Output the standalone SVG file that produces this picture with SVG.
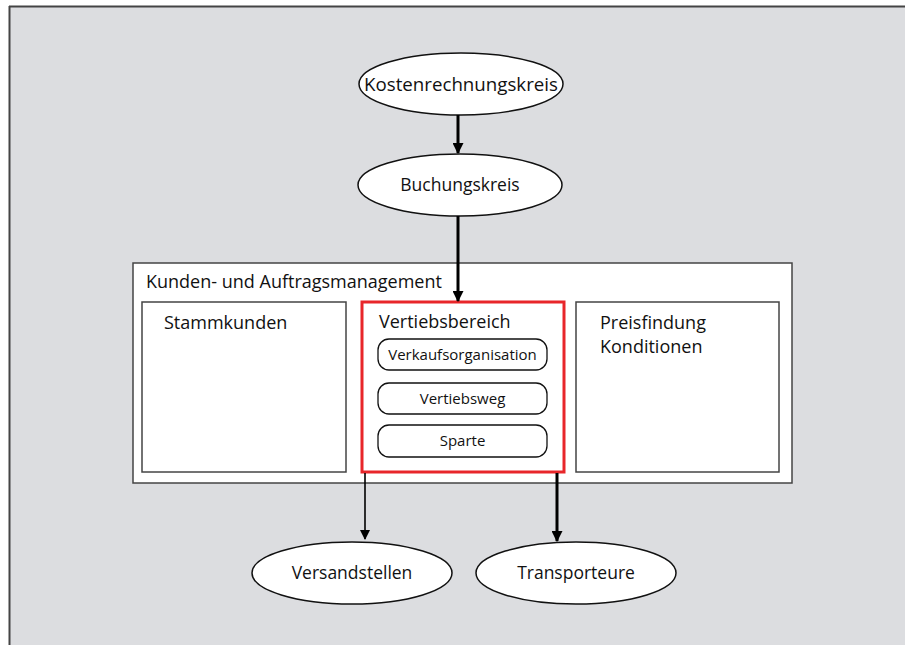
<svg xmlns="http://www.w3.org/2000/svg" width="905" height="645" viewBox="0 0 905 645">
<defs>
<style>
.t{font-family:"Open Sans","Noto Sans","DejaVu Sans",sans-serif;fill:#111}
.ell{fill:#fff;stroke:#111;stroke-width:1.5}
.box{fill:#fff;stroke:#444;stroke-width:1.5}
.rr{fill:#fff;stroke:#111;stroke-width:1.3}
.c{stroke:#000;fill:none}
</style>
<marker id="ah" viewBox="0 0 10 10" refX="9" refY="5" markerWidth="10" markerHeight="10" markerUnits="userSpaceOnUse" orient="auto">
<path d="M0,0 L10,5 L0,10 z" fill="#000"/>
</marker>
<marker id="ahb" viewBox="0 0 10 10" refX="9" refY="5" markerWidth="11" markerHeight="11" markerUnits="userSpaceOnUse" orient="auto">
<path d="M0,0 L10,5 L0,10 z" fill="#000"/>
</marker>
</defs>
<rect x="0" y="0" width="905" height="645" fill="#fff"/>
<rect x="10" y="7" width="895" height="638" fill="#dcdde0"/>
<line x1="9" y1="6.5" x2="905" y2="6.5" stroke="#444" stroke-width="2"/>
<line x1="9.5" y1="6" x2="9.5" y2="645" stroke="#444" stroke-width="2"/>

<g id="kundenmanagement">
<rect class="box" x="133" y="263" width="659" height="220"/>
<text class="t" x="146" y="288" font-size="18">Kunden- und Auftragsmanagement</text>
</g>
<g id="stammkunden">
<rect class="box" x="142" y="302" width="204" height="170"/>
<text class="t" x="164" y="329" font-size="18">Stammkunden</text>
</g>
<g id="preisfindung">
<rect class="box" x="576" y="302" width="203" height="170"/>
<text class="t" x="600" y="329" font-size="18">Preisfindung</text>
<text class="t" x="600" y="353" font-size="18">Konditionen</text>
</g>
<g id="vertiebsbereich">
<rect x="362" y="302" width="202" height="170" fill="#fff" stroke="#e8262a" stroke-width="3"/>
<text class="t" x="379" y="328" font-size="18">Vertiebsbereich</text>
</g>
<g id="verkaufsorganisation">
<rect class="rr" x="378" y="339" width="169" height="31" rx="11"/>
<text class="t" x="462.5" y="360" font-size="15" text-anchor="middle">Verkaufsorganisation</text>
</g>
<g id="vertiebsweg">
<rect class="rr" x="378" y="383" width="169" height="31" rx="11"/>
<text class="t" x="462.5" y="404" font-size="15" text-anchor="middle">Vertiebsweg</text>
</g>
<g id="sparte">
<rect class="rr" x="378" y="425" width="169" height="32" rx="11"/>
<text class="t" x="462.5" y="446" font-size="15" text-anchor="middle">Sparte</text>
</g>

<g id="kostenrechnungskreis">
<ellipse class="ell" cx="461" cy="84" rx="102" ry="31"/>
<text class="t" x="461" y="91" font-size="19" text-anchor="middle" textLength="194" lengthAdjust="spacingAndGlyphs">Kostenrechnungskreis</text>
</g>
<g id="buchungskreis">
<ellipse class="ell" cx="460" cy="185" rx="102" ry="31"/>
<text class="t" x="460" y="191" font-size="17.5" text-anchor="middle">Buchungskreis</text>
</g>
<g id="versandstellen">
<ellipse class="ell" cx="352" cy="573" rx="100" ry="31"/>
<text class="t" x="352" y="579" font-size="17.5" text-anchor="middle">Versandstellen</text>
</g>
<g id="transporteure">
<ellipse class="ell" cx="576" cy="573" rx="100" ry="31"/>
<text class="t" x="576" y="579" font-size="17.5" text-anchor="middle">Transporteure</text>
</g>

<g id="connectors">
<line class="c" x1="458" y1="115" x2="458" y2="153" stroke-width="3" marker-end="url(#ahb)"/>
<line class="c" x1="458" y1="216" x2="458" y2="301" stroke-width="3" marker-end="url(#ahb)"/>
<line class="c" x1="365" y1="473" x2="365" y2="539" stroke-width="1.6" marker-end="url(#ah)"/>
<line class="c" x1="557" y1="473" x2="557" y2="541" stroke-width="3" marker-end="url(#ahb)"/>
</g>
</svg>
